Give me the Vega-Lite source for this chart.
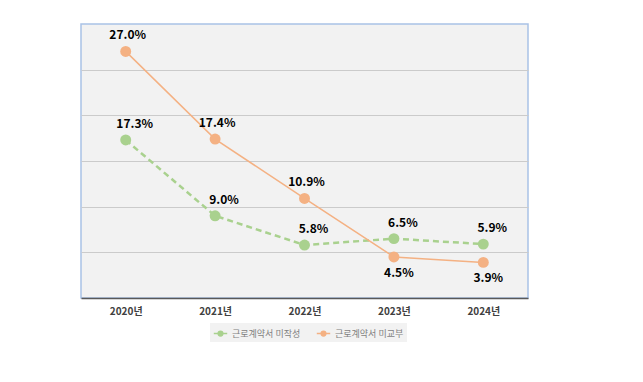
{
  "$schema": "https://vega.github.io/schema/vega-lite/v6.json",
  "autosize": {"type": "none"},
  "width": 447,
  "height": 274,
  "padding": {"left": 81, "top": 24, "right": 115, "bottom": 84},
  "background": "white",
  "data": {
    "values": [
      {"year": "2020년", "series": "근로계약서 미작성", "value": 17.3, "label": "17.3%"},
      {"year": "2021년", "series": "근로계약서 미작성", "value": 9.0, "label": "9.0%"},
      {"year": "2022년", "series": "근로계약서 미작성", "value": 5.8, "label": "5.8%"},
      {"year": "2023년", "series": "근로계약서 미작성", "value": 6.5, "label": "6.5%"},
      {"year": "2024년", "series": "근로계약서 미작성", "value": 5.9, "label": "5.9%"},
      {"year": "2020년", "series": "근로계약서 미교부", "value": 27.0, "label": "27.0%"},
      {"year": "2021년", "series": "근로계약서 미교부", "value": 17.4, "label": "17.4%"},
      {"year": "2022년", "series": "근로계약서 미교부", "value": 10.9, "label": "10.9%"},
      {"year": "2023년", "series": "근로계약서 미교부", "value": 4.5, "label": "4.5%"},
      {"year": "2024년", "series": "근로계약서 미교부", "value": 3.9, "label": "3.9%"}
    ]
  },
  "encoding": {
    "x": {
      "field": "year", "type": "ordinal",
      "scale": {"type": "point", "padding": 0.5},
      "axis": {
        "title": null, "labelAngle": 0, "ticks": false, "labelPadding": 8,
        "labelFont": "Noto Sans CJK KR", "labelFontSize": 10, "labelFontWeight": "bold",
        "labelColor": "#404040", "domainColor": "#595959", "domainWidth": 1.5
      }
    },
    "y": {
      "field": "value", "type": "quantitative",
      "scale": {"domain": [0, 30], "nice": false},
      "axis": {
        "title": null, "labels": false, "ticks": false, "domain": false,
        "grid": true, "gridColor": "#cbcbcb", "gridWidth": 1, "values": [5, 10, 15, 20, 25]
      }
    },
    "color": {
      "field": "series", "type": "nominal",
      "scale": {"domain": ["근로계약서 미작성", "근로계약서 미교부"], "range": ["#a9d18e", "#f4b183"]},
      "legend": {
        "title": null, "orient": "none", "legendX": 129, "legendY": 299, "direction": "horizontal",
        "labelFont": "Noto Sans CJK KR", "labelFontSize": 9, "labelColor": "#7f7f7f",
        "fillColor": "#f2f2f2", "padding": 3, "columnPadding": 12,
        "symbolType": "M-1,0H-0.35M0.35,0H1M0.35,0A0.35,0.35,0,1,1,-0.35,0A0.35,0.35,0,1,1,0.35,0",
        "symbolSize": 180, "symbolStrokeWidth": 1.5
      }
    }
  },
  "layer": [
    {
      "transform": [{"filter": "datum.series === '근로계약서 미작성'"}],
      "mark": {"type": "line", "strokeWidth": 2.5, "strokeDash": [6, 4]}
    },
    {
      "transform": [{"filter": "datum.series === '근로계약서 미교부'"}],
      "mark": {"type": "line", "strokeWidth": 1.5}
    },
    {
      "mark": {"type": "point", "filled": true, "opacity": 1, "size": 120}
    },
    {
      "transform": [{"filter": "datum.series === '근로계약서 미작성'"}],
      "mark": {"type": "text", "dx": 9, "dy": -16, "font": "Noto Sans CJK KR", "fontSize": 12, "fontWeight": "bold"},
      "encoding": {"text": {"field": "label"}, "color": {"value": "#000000"}}
    },
    {
      "transform": [{"filter": "datum.series === '근로계약서 미교부' && datum.value > 5"}],
      "mark": {"type": "text", "dx": 2, "dy": -16, "font": "Noto Sans CJK KR", "fontSize": 12, "fontWeight": "bold"},
      "encoding": {"text": {"field": "label"}, "color": {"value": "#000000"}}
    },
    {
      "transform": [{"filter": "datum.series === '근로계약서 미교부' && datum.value < 5"}],
      "mark": {"type": "text", "dx": 5, "dy": 16, "font": "Noto Sans CJK KR", "fontSize": 12, "fontWeight": "bold"},
      "encoding": {"text": {"field": "label"}, "color": {"value": "#000000"}}
    }
  ],
  "config": {
    "view": {"fill": "#f2f2f2", "stroke": "#a9c2e6", "strokeWidth": 1.5}
  }
}
